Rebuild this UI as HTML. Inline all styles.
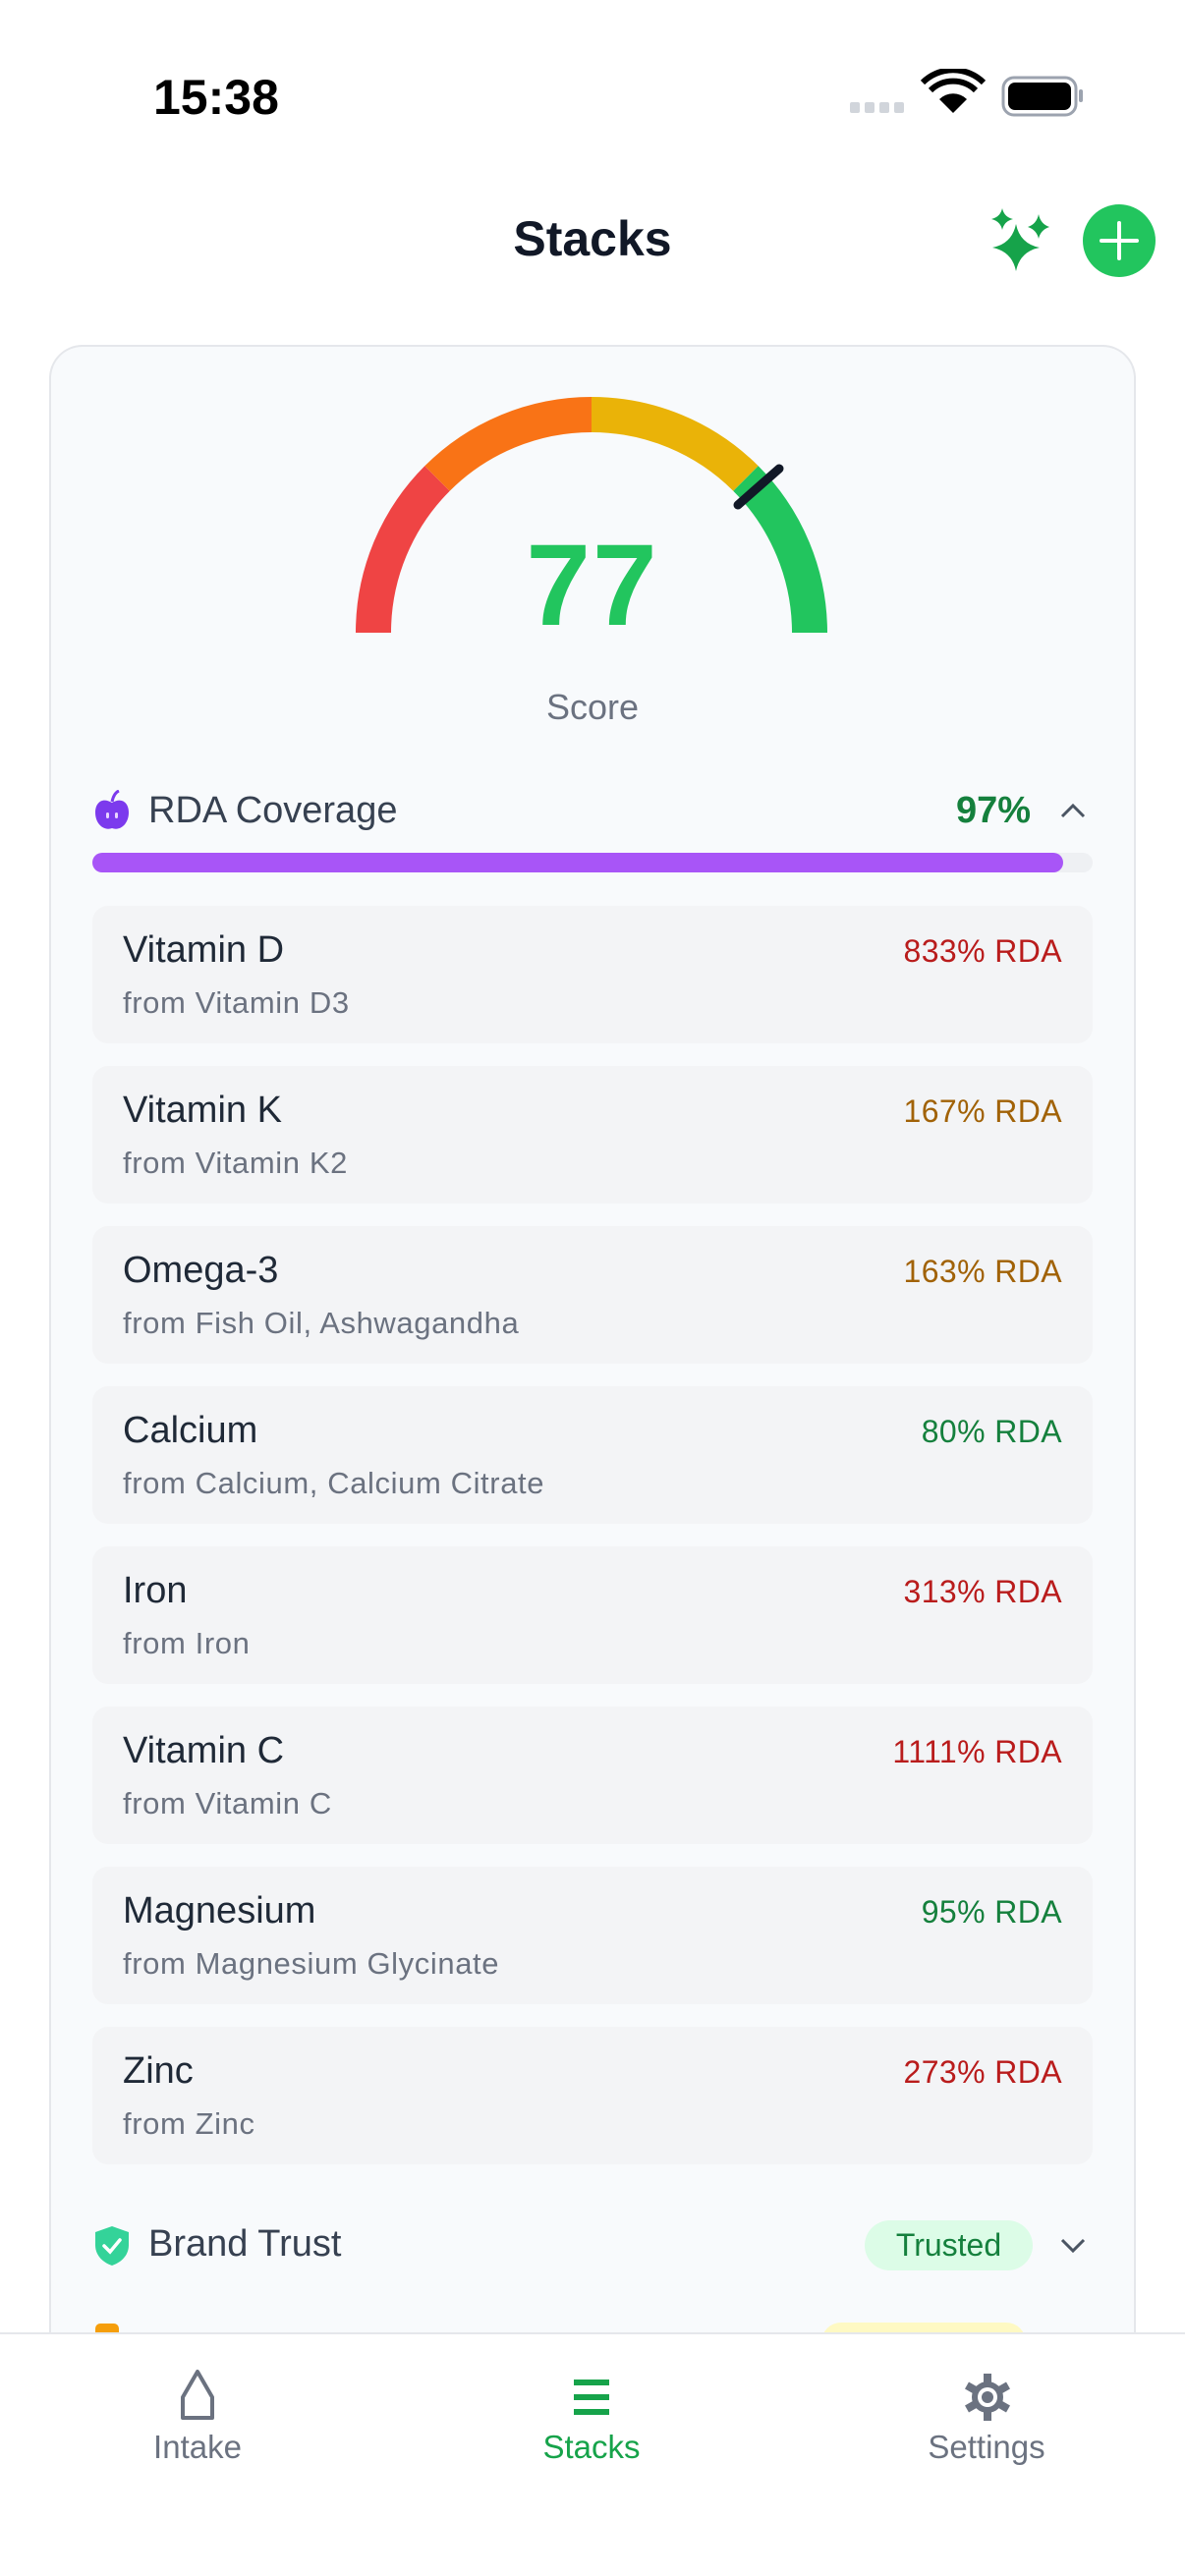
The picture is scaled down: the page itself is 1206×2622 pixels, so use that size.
<!DOCTYPE html>
<html><head><meta charset="utf-8">
<style>
*{margin:0;padding:0;box-sizing:border-box}
html{width:1206px;height:2622px;overflow:hidden}
body{width:1206px;height:2622px;background:#fff;position:relative;overflow:hidden;font-family:"Liberation Sans",sans-serif}
.a{position:absolute}
.card{left:50px;top:351px;width:1106px;height:2271px;background:#f8fafc;border:2px solid #e5e7eb;border-bottom:none;border-radius:34px 34px 0 0}
.row{position:absolute;left:94px;width:1018px;height:140px;background:#f3f4f6;border-radius:16px}
.row .n{position:absolute;left:31px;top:24px;font-size:38px;color:#1f2937}
.row .s{position:absolute;left:31px;top:81px;font-size:31px;letter-spacing:0.6px;color:#6b7280}
.row .v{position:absolute;right:31px;top:28px;font-size:32px;letter-spacing:0.4px}
.red{color:#b91c1c}.amb{color:#a16207}.grn{color:#15803d}
.tab{position:absolute;top:2374px;left:0;width:1206px;height:248px;background:#fff;border-top:2px solid #e5e7eb}
.tl{position:absolute;top:2472px;font-size:33px;width:300px;text-align:center}
</style></head><body>
<div class="a" style="left:156px;top:70px;font-size:50px;font-weight:bold;color:#000">15:38</div>
<svg class="a" style="left:860px;top:70px" width="250" height="60" viewBox="0 0 250 60">
<g fill="#d1d5db"><rect x="5" y="34" width="10" height="11" rx="2"/><rect x="20" y="34" width="10" height="11" rx="2"/><rect x="35" y="34" width="10" height="11" rx="2"/><rect x="50" y="34" width="10" height="11" rx="2"/></g>
<path d="M110 45 L96 31 A20 20 0 0 1 124 31 Z" fill="#000"/>
<path d="M87 22 A33 33 0 0 1 133 22" stroke="#000" stroke-width="6" fill="none"/>
<path d="M79 14 A44 44 0 0 1 141 14" stroke="#000" stroke-width="6" fill="none"/>
<rect x="161" y="9" width="74" height="38" rx="11" fill="none" stroke="#9ca3af" stroke-width="3"/>
<rect x="166" y="14" width="64" height="28" rx="7" fill="#000"/>
<rect x="238" y="21" width="4" height="13" rx="2" fill="#9ca3af"/>
</svg>
<div class="a" style="left:0;width:1206px;top:214px;text-align:center;font-size:50px;font-weight:bold;color:#111827">Stacks</div>
<svg class="a" style="left:1000px;top:210px" width="70" height="70" viewBox="0 0 70 70">
<path fill="#16a34a" d="M34 18 Q38 38 58 42 Q38 46 34 66 Q30 46 10 42 Q30 38 34 18Z M20 2 Q22 11 31 13 Q22 15 20 24 Q18 15 9 13 Q18 11 20 2Z M57 8 Q59 18 68 21 Q59 24 57 33 Q55 24 46 21 Q55 18 57 8Z"/>
</svg>
<svg class="a" style="left:1101px;top:207px" width="76" height="76" viewBox="0 0 76 76"><circle cx="38" cy="38" r="37" fill="#22c55e"/><path d="M38 20V56M20 38H56" stroke="#fff" stroke-width="4" stroke-linecap="round"/></svg>
<div class="a card"></div>
<svg class="a" style="left:362px;top:404px" width="480" height="242" viewBox="0 0 480 242">
<g fill="none" stroke-width="36">
<path d="M18 240 A222 222 0 0 1 83 83" stroke="#ef4444"/>
<path d="M83 83 A222 222 0 0 1 240 18" stroke="#f97316"/>
<path d="M240 18 A222 222 0 0 1 397 83" stroke="#eab308"/>
<path d="M397 83 A222 222 0 0 1 462 240" stroke="#22c55e"/>
</g>
<line x1="389" y1="110" x2="431" y2="73" stroke="#111827" stroke-width="9" stroke-linecap="round"/>
</svg>
<div class="a" style="left:0;width:1206px;top:528px;text-align:center;font-size:118px;font-weight:bold;color:#22c55e;letter-spacing:2px">77</div>
<div class="a" style="left:0;width:1206px;top:699px;text-align:center;font-size:36px;color:#6b7280">Score</div>
<svg class="a" style="left:96px;top:804px" width="36" height="42" viewBox="0 0 36 42"><path d="M18 12 Q20 3 25 1" stroke="#7c3aed" stroke-width="3" fill="none"/><path d="M18 13 C8 7 1 13 1 23 C1 35 10 42 18 39 C26 42 35 35 35 23 C35 13 28 7 18 13Z" fill="#7c3aed"/><rect x="12" y="23" width="3" height="6" rx="1.5" fill="#e9d5ff"/><rect x="21" y="23" width="3" height="6" rx="1.5" fill="#e9d5ff"/></svg>
<div class="a" style="left:151px;top:804px;font-size:38px;color:#374151">RDA Coverage</div>
<div class="a grn" style="right:157px;top:804px;font-size:38px;font-weight:bold">97%</div>
<svg class="a" style="left:1078px;top:815px" width="28" height="20"><path d="M3 16 L14 5 L25 16" stroke="#4b5563" stroke-width="3" fill="none"/></svg>
<div class="a" style="left:94px;top:868px;width:1018px;height:20px;background:#eef0f3;border-radius:10px"><div style="width:988px;height:20px;background:#a855f7;border-radius:10px"></div></div>
<div class="row" style="top:922px"><div class="n">Vitamin D</div><div class="s">from Vitamin D3</div><div class="v red">833% RDA</div></div>
<div class="row" style="top:1085px"><div class="n">Vitamin K</div><div class="s">from Vitamin K2</div><div class="v amb">167% RDA</div></div>
<div class="row" style="top:1248px"><div class="n">Omega-3</div><div class="s">from Fish Oil, Ashwagandha</div><div class="v amb">163% RDA</div></div>
<div class="row" style="top:1411px"><div class="n">Calcium</div><div class="s">from Calcium, Calcium Citrate</div><div class="v grn">80% RDA</div></div>
<div class="row" style="top:1574px"><div class="n">Iron</div><div class="s">from Iron</div><div class="v red">313% RDA</div></div>
<div class="row" style="top:1737px"><div class="n">Vitamin C</div><div class="s">from Vitamin C</div><div class="v red">1111% RDA</div></div>
<div class="row" style="top:1900px"><div class="n">Magnesium</div><div class="s">from Magnesium Glycinate</div><div class="v grn">95% RDA</div></div>
<div class="row" style="top:2063px"><div class="n">Zinc</div><div class="s">from Zinc</div><div class="v red">273% RDA</div></div>
<svg class="a" style="left:95px;top:2265px" width="38" height="42" viewBox="0 0 38 42"><path d="M19 1 L36 7 V20 C36 31 28 38 19 41 C10 38 2 31 2 20 V7 Z" fill="#34d399"/><path d="M11 21 L17 27 L27 15" stroke="#fff" stroke-width="3.5" fill="none" stroke-linecap="round"/></svg>
<div class="a" style="left:151px;top:2263px;font-size:38px;color:#374151">Brand Trust</div>
<div class="a grn" style="left:880px;top:2260px;width:171px;height:51px;background:#dcfce7;border-radius:26px;text-align:center;line-height:51px;font-size:32px">Trusted</div>
<svg class="a" style="left:1078px;top:2276px" width="28" height="20"><path d="M3 4 L14 15 L25 4" stroke="#4b5563" stroke-width="3" fill="none"/></svg>
<div class="a" style="left:97px;top:2365px;width:24px;height:20px;background:#f59e0b;border-radius:5px"></div>
<div class="a" style="left:836px;top:2364px;width:208px;height:40px;background:#fef9c3;border-radius:20px"></div>
<div class="tab"></div>
<svg class="a" style="left:181px;top:2410px" width="40" height="54" viewBox="0 0 40 54"><path d="M20 4 L35 30 V51 H5 V30 Z" stroke="#6b7280" stroke-width="4" fill="none" stroke-linejoin="round"/></svg>
<div class="tl" style="left:51px;color:#6b7280">Intake</div>
<svg class="a" style="left:582px;top:2420px" width="40" height="40" viewBox="0 0 40 40"><g fill="#16a34a"><rect x="2" y="2" width="36" height="6"/><rect x="2" y="17" width="36" height="6"/><rect x="2" y="32" width="36" height="6"/></g></svg>
<div class="tl" style="left:452px;color:#16a34a">Stacks</div>
<svg class="a" style="left:982px;top:2414px" width="46" height="52" viewBox="0 0 46 52"><g fill="#6b7280"><circle cx="23" cy="26" r="16"/><g stroke="#6b7280" stroke-width="8"><line x1="23" y1="2" x2="23" y2="50"/><line x1="2" y1="14" x2="44" y2="38"/><line x1="2" y1="38" x2="44" y2="14"/></g></g><circle cx="23" cy="26" r="10" fill="#fff"/><circle cx="23" cy="26" r="6" fill="#6b7280"/></svg>
<div class="tl" style="left:854px;color:#6b7280">Settings</div>
</body></html>
